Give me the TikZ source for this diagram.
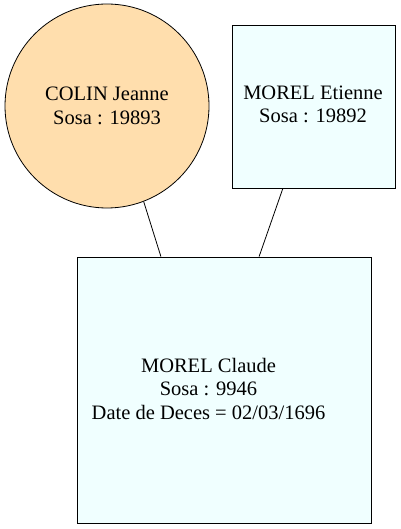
\documentclass[tikz,border=0pt]{standalone}
\usepackage{fontspec}
\setmainfont{Liberation Serif}
\usetikzlibrary{calc}
\definecolor{navajo}{HTML}{FFDEAD}
\definecolor{azurec}{HTML}{F0FFFF}
\tikzset{
  shapebase/.style={draw=black, line width=0.8pt, inner sep=0pt},
  circ/.style={shapebase, circle, fill=navajo, minimum size=204pt},
  sq/.style={shapebase, rectangle, fill=azurec},
  txt/.style={align=center, inner sep=0pt, anchor=base,
    font=\fontsize{20.5}{23.5}\selectfont},
  link/.style={draw=black, line width=0.8pt}
}
\begin{document}
\begin{tikzpicture}[x=1pt,y=1pt]
\useasboundingbox (0,0) rectangle (400,-529);
\node[circ] (colin) at (107,-106) {};
\node[sq, minimum width=163pt, minimum height=163pt] (etienne) at (313.5,-106.5) {};
\node[sq, minimum width=294pt, minimum height=266pt] (claude) at (224,-390) {};
\node[txt] (colintxt) at (107,-124.2) {COLIN Jeanne\\Sosa : 19893};
\node[txt] (etiennetxt) at (313,-123) {MOREL Etienne\\Sosa : 19892};
\node[txt] (claudetxt) at (208.5,-419) {MOREL Claude\\Sosa : 9946\\Date de Deces = 02/03/1696};
\draw[link] (colin.-69.6) -- ($(claude.north west)!0.286!(claude.north east)$);
\draw[link] ($(etienne.south west)!0.313!(etienne.south east)$) -- ($(claude.north west)!0.619!(claude.north east)$);
\end{tikzpicture}
\end{document}
